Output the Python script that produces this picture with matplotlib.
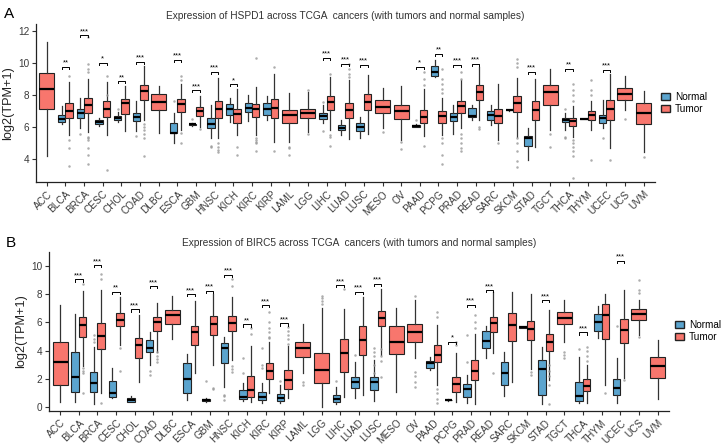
import matplotlib
matplotlib.use('Agg')
import matplotlib.pyplot as plt
from matplotlib.patches import Patch

plt.rcParams['font.family'] = ['Liberation Sans', 'DejaVu Sans']

cancers = ['ACC', 'BLCA', 'BRCA', 'CESC', 'CHOL', 'COAD', 'DLBC', 'ESCA', 'GBM', 'HNSC', 'KICH',
           'KIRC', 'KIRP', 'LAML', 'LGG', 'LIHC', 'LUAD', 'LUSC', 'MESO', 'OV', 'PAAD', 'PCPG',
           'PRAD', 'READ', 'SARC', 'SKCM', 'STAD', 'TGCT', 'THCA', 'THYM', 'UCEC', 'UCS', 'UVM']

# ---- panel A : HSPD1  (lo, q1, med, q3, hi) ----
a_normal = {
    'BLCA': (6.2, 6.31, 6.51, 6.74, 7.3), 'BRCA': (5.92, 6.58, 6.87, 7.15, 7.83),
    'CESC': (6.06, 6.22, 6.33, 6.47, 6.6), 'CHOL': (6.35, 6.42, 6.54, 6.68, 6.95),
    'COAD': (5.77, 6.37, 6.64, 6.89, 7.6), 'ESCA': (4.99, 5.61, 5.67, 6.23, 6.85),
    'GBM': (6.1, 6.14, 6.18, 6.22, 6.26), 'HNSC': (5.36, 5.92, 6.2, 6.54, 7.36),
    'KICH': (6.33, 6.78, 7.13, 7.46, 7.83), 'KIRC': (6.37, 6.93, 7.22, 7.5, 7.98),
    'KIRP': (6.43, 6.78, 7.11, 7.53, 7.92), 'LIHC': (6.27, 6.51, 6.72, 6.91, 7.36),
    'LUAD': (5.5, 5.81, 5.98, 6.12, 6.43), 'LUSC': (5.36, 5.77, 6.02, 6.23, 6.64),
    'PAAD': (6.0, 6.02, 6.08, 6.14, 6.18), 'PCPG': (9.11, 9.15, 9.42, 9.82, 10.19),
    'PRAD': (5.6, 6.39, 6.64, 6.89, 7.36), 'READ': (6.47, 6.64, 6.7, 7.22, 7.36),
    'SARC': (6.12, 6.43, 6.74, 7.0, 7.36), 'SKCM': (7.03, 7.04, 7.05, 7.06, 7.07),
    'STAD': (3.96, 4.82, 5.36, 5.44, 5.98), 'THCA': (5.8, 6.31, 6.47, 6.6, 6.89),
    'THYM': (6.49, 6.5, 6.51, 6.52, 6.53), 'UCEC': (5.92, 6.29, 6.6, 6.78, 7.67),
}
a_tumor = [
    (4.2, 7.11, 8.35, 9.38, 11.26), (5.5, 6.56, 6.99, 7.48, 8.8), (5.7, 6.89, 7.38, 7.83, 9.0),
    (5.5, 6.62, 7.13, 7.6, 8.8), (5.75, 6.82, 7.5, 7.73, 8.56), (6.43, 7.71, 8.23, 8.64, 9.77),
    (5.65, 7.07, 7.57, 8.04, 8.56), (5.8, 6.97, 7.42, 7.75, 8.7), (6.0, 6.7, 7.0, 7.26, 7.94),
    (5.3, 6.6, 7.13, 7.63, 9.07), (5.5, 6.27, 6.84, 7.15, 8.39), (5.5, 6.64, 7.11, 7.46, 8.5),
    (5.1, 6.58, 7.22, 7.73, 9.32), (5.09, 6.23, 6.74, 7.05, 8.14), (5.71, 6.6, 6.87, 7.11, 8.2),
    (5.8, 7.05, 7.57, 7.92, 9.11), (5.24, 6.54, 7.09, 7.53, 8.9), (5.6, 7.05, 7.57, 8.08, 9.22),
    (5.92, 6.89, 7.26, 7.67, 8.43), (5.2, 6.5, 7.0, 7.36, 8.54), (5.44, 6.27, 6.64, 7.05, 8.4),
    (5.5, 6.29, 6.68, 7.0, 7.8), (5.92, 6.89, 7.3, 7.63, 8.9), (6.43, 7.67, 8.19, 8.64, 9.73),
    (5.2, 6.29, 6.7, 7.15, 8.7), (5.4, 6.95, 7.5, 7.92, 9.07), (4.78, 6.43, 7.05, 7.61, 9.0),
    (5.8, 7.4, 8.19, 8.64, 9.63), (5.4, 6.06, 6.37, 6.58, 7.3), (5.8, 6.43, 6.74, 7.0, 7.61),
    (4.68, 6.47, 7.15, 7.71, 9.32), (7.09, 7.67, 8.04, 8.43, 9.15), (4.47, 6.18, 6.89, 7.5, 8.25),
]
a_normal_out = {'BRCA': [5.6], 'CHOL': [7.1], 'COAD': [5.44], 'ESCA': [7.6], 'GBM': [6.5],
                'HNSC': [4.84, 4.78], 'LIHC': [7.55, 5.75], 'PAAD': [6.43],
                'THCA': [7.1, 5.4, 5.3], 'UCEC': [5.3]}
a_tumor_out = {
    'BLCA': [9.2, 5.2, 4.7, 3.6], 'BRCA': [11.6, 9.9, 9.6, 9.4, 5.4, 5.3, 5.2, 4.7, 4.3, 3.7],
    'CESC': [9.2, 8.0, 3.36], 'COAD': [6.2, 6.0, 5.8, 5.6, 5.3, 4.2], 'ESCA': [9.2, 8.9, 5.65, 5.0],
    'GBM': [5.9], 'HNSC': [5.0, 4.8, 4.6, 4.47], 'KICH': [4.78, 4.27],
    'KIRC': [10.29, 5.3, 5.2, 5.1, 5.0, 4.5], 'KIRP': [9.73, 4.5], 'LAML': [4.78, 4.7, 4.3],
    'LGG': [8.3, 5.6], 'LIHC': [9.3, 5.5, 5.4, 4.84], 'LUAD': [9.9, 9.6, 9.3, 9.1],
    'MESO': [5.69], 'OV': [5.09, 4.62], 'PAAD': [9.4, 9.0, 8.6, 4.82],
    'PCPG': [9.6, 9.0, 8.7, 8.4, 8.1, 5.3, 5.0, 4.27, 3.7],
    'PRAD': [9.4, 9.0, 5.6, 5.3, 5.0, 4.7, 4.5], 'READ': [6.02, 5.9], 'SARC': [5.0],
    'SKCM': [10.25, 10.0, 9.73, 5.3, 5.0, 4.5, 3.9, 3.54], 'TGCT': [5.55, 4.74],
    'THCA': [8.7, 8.3, 8.0, 7.6, 5.2, 5.0, 4.8, 4.5, 4.2, 2.82], 'THYM': [8.95, 8.29, 8.0, 3.96],
    'UCEC': [3.96], 'UCS': [6.5], 'UVM': [4.16]}
a_sig = {'BLCA': ('**', 9.73), 'BRCA': ('***', 11.7), 'CESC': ('*', 9.98), 'CHOL': ('**', 8.85),
         'COAD': ('***', 10.06), 'ESCA': ('***', 10.18), 'GBM': ('***', 8.29), 'HNSC': ('***', 9.42),
         'KICH': ('*', 8.66), 'LIHC': ('***', 10.29), 'LUAD': ('***', 9.94), 'LUSC': ('***', 9.88),
         'PAAD': ('*', 9.73), 'PCPG': ('**', 10.56), 'PRAD': ('***', 9.88), 'READ': ('***', 9.94),
         'STAD': ('***', 9.42), 'THCA': ('**', 9.63), 'UCEC': ('***', 9.57)}

# ---- panel B : BIRC5 ----
b_normal = {
    'BLCA': (0.4, 1.11, 2.17, 3.93, 6.59), 'BRCA': (0.21, 1.11, 1.74, 2.47, 4.28),
    'CESC': (0.64, 0.75, 0.99, 1.86, 2.75), 'CHOL': (0.38, 0.4, 0.52, 0.68, 0.82),
    'COAD': (2.99, 3.88, 4.21, 4.75, 5.3), 'ESCA': (0.52, 0.99, 2.0, 3.11, 3.74),
    'GBM': (0.38, 0.42, 0.52, 0.61, 0.65), 'HNSC': (1.46, 3.11, 4.17, 4.52, 4.99),
    'KICH': (0.45, 0.59, 0.75, 1.23, 1.7), 'KIRC': (0.28, 0.52, 0.75, 1.06, 1.7),
    'KIRP': (0.28, 0.45, 0.68, 0.92, 1.58), 'LIHC': (0.24, 0.4, 0.59, 0.87, 1.46),
    'LUAD': (0.64, 1.34, 1.81, 2.17, 3.22), 'LUSC': (0.45, 1.23, 1.77, 2.12, 3.34),
    'PAAD': (2.64, 2.8, 3.11, 3.27, 3.58), 'PCPG': (0.48, 0.5, 0.52, 0.54, 0.56),
    'PRAD': (0.28, 0.75, 1.27, 1.62, 2.28), 'READ': (3.46, 4.17, 4.68, 5.39, 5.77),
    'SARC': (0.82, 1.58, 2.4, 3.18, 3.93), 'SKCM': (5.63, 5.64, 5.65, 5.66, 5.67),
    'STAD': (0.21, 0.87, 2.71, 3.34, 4.28), 'THCA': (0.28, 0.47, 0.82, 1.81, 3.58),
    'THYM': (4.87, 5.39, 6.0, 6.57, 7.15), 'UCEC': (0.28, 0.87, 1.34, 1.98, 3.46),
}
b_tumor = [
    (0.35, 1.58, 3.18, 4.59, 7.27), (2.9, 4.99, 5.81, 6.4, 8.24), (1.0, 4.1, 5.06, 5.93, 8.3),
    (4.4, 5.74, 6.17, 6.64, 7.77), (1.81, 3.46, 4.4, 4.87, 6.52), (3.93, 5.41, 6.0, 6.4, 7.41),
    (4.8, 5.86, 6.52, 6.87, 7.88), (2.45, 4.4, 5.3, 5.74, 7.5), (3.0, 5.11, 5.88, 6.45, 7.98),
    (3.34, 5.41, 5.98, 6.45, 7.77), (0.4, 0.75, 1.23, 2.24, 4.33), (0.99, 2.0, 2.57, 3.11, 4.64),
    (0.64, 1.3, 1.91, 2.64, 4.33), (2.4, 3.53, 4.17, 4.64, 5.88), (0.05, 1.7, 2.66, 3.81, 7.0),
    (0.75, 2.47, 3.81, 4.82, 6.92), (0.87, 3.69, 4.75, 5.74, 7.81), (3.69, 5.74, 6.35, 6.82, 8.4),
    (1.11, 3.77, 4.64, 5.77, 6.99), (3.46, 4.64, 5.34, 5.88, 7.6), (1.58, 3.18, 3.69, 4.4, 5.81),
    (0.4, 1.11, 1.62, 2.17, 3.81), (0.21, 1.93, 2.57, 3.34, 5.22), (3.81, 5.34, 5.93, 6.4, 8.17),
    (1.81, 4.71, 5.81, 6.64, 8.17), (2.71, 4.75, 5.51, 6.1, 7.98), (1.9, 4.0, 4.64, 5.22, 6.87),
    (4.64, 5.86, 6.33, 6.75, 7.62), (0.28, 1.18, 1.53, 1.98, 3.0), (1.58, 4.82, 6.52, 7.34, 8.0),
    (2.05, 4.57, 5.46, 6.24, 8.28), (5.11, 6.17, 6.57, 6.92, 7.58), (0.59, 2.09, 2.94, 3.58, 4.75),
]
b_normal_out = {'BRCA': [5.1, 4.8, 4.6], 'COAD': [2.59, 2.28], 'GBM': [1.86],
                'HNSC': [0.9, 0.8, 0.52], 'KICH': [3.51, 2.4], 'KIRC': [4.17, 3.0, 2.75],
                'KIRP': [1.86], 'LIHC': [1.86], 'LUAD': [3.7],
                'LUSC': [4.17, 3.9, 3.6, 3.0, 2.4], 'PRAD': [5.11, 3.22], 'THCA': [4.12],
                'UCEC': [5.77]}
b_tumor_out = {
    'BLCA': [8.75, 2.75, 2.6, 2.4, 1.04], 'BRCA': [9.4, 9.04, 0.33], 'CESC': [4.17, 2.59],
    'COAD': [3.88, 3.6, 3.4, 3.22], 'GBM': [1.4, 1.3], 'HNSC': [9.11, 8.6, 2.92, 2.7, 2.52],
    'KICH': [5.6, 5.22], 'KIRC': [6.75, 6.0, 5.6, 5.3, 5.0, 4.9], 'KIRP': [5.7, 5.4, 5.1, 4.8, 4.5],
    'LAML': [1.81, 1.6], 'LGG': [7.9, 7.7, 7.5, 7.3], 'LIHC': [8.4],
    'LUSC': [4.1, 3.6, 3.3, 2.17], 'OV': [7.86, 2.52, 2.2, 1.8, 1.46],
    'PAAD': [6.75, 6.4, 1.3, 1.0, 0.6, 0.3], 'PCPG': [4.64, 4.4], 'PRAD': [6.5, 6.0, 5.6],
    'READ': [2.45], 'SKCM': [2.5, 2.3], 'STAD': [2.99, 2.6, 2.2, 1.6, 0.21],
    'TGCT': [3.93, 3.7, 3.46], 'THCA': [3.3, 3.6, 4.0, 4.28], 'THYM': [0.99], 'UCEC': [1.9],
    'UCS': [8.99, 8.3, 8.1, 5.0]}
b_sig = {'BLCA': ('***', 9.04), 'BRCA': ('***', 10.05), 'CESC': ('**', 8.17), 'CHOL': ('***', 6.92),
         'COAD': ('***', 8.57), 'ESCA': ('***', 8.0), 'GBM': ('***', 8.24), 'HNSC': ('***', 9.39),
         'KICH': ('**', 5.86), 'KIRC': ('***', 7.22), 'KIRP': ('***', 5.93), 'LIHC': ('***', 8.64),
         'LUAD': ('***', 8.17), 'LUSC': ('***', 8.75), 'PCPG': ('*', 4.64), 'PRAD': ('***', 7.27),
         'READ': ('***', 8.28), 'STAD': ('***', 7.58), 'THCA': ('***', 5.3), 'UCEC': ('***', 10.35)}

col_normal = '#5BA4CE'
col_tumor = '#F8766D'
txt_col = '#3A3A3A'


def stat(v, out):
    return dict(whislo=v[0], q1=v[1], med=v[2], q3=v[3], whishi=v[4], fliers=out)


def panel(ax, normal, tumor, n_out, t_out, sig, gene, ylim, yticks, tick_len):
    for i, c in enumerate(cancers):
        if c in normal:
            w = 0.4
            grp = [(normal[c], n_out.get(c, []), i - 0.2, col_normal),
                   (tumor[i], t_out.get(c, []), i + 0.2, col_tumor)]
        else:
            grp = [(tumor[i], t_out.get(c, []), i, col_tumor)]
            w = 0.8
        for v, out, p, col in grp:
            ax.bxp([stat(v, out)], positions=[p], widths=w, patch_artist=True, showcaps=False,
                   boxprops=dict(facecolor=col, edgecolor='#222222', linewidth=0.8),
                   medianprops=dict(color='black', linewidth=1.6),
                   whiskerprops=dict(color='#333333', linewidth=0.9),
                   flierprops=dict(marker='o', markersize=1.8, markerfacecolor='#999999',
                                   markeredgecolor='none', alpha=0.8))
        if c in sig:
            lab, y = sig[c]
            ax.plot([i - 0.2, i - 0.2, i + 0.2, i + 0.2], [y - tick_len, y, y, y - tick_len],
                    color='black', lw=0.7)
            ax.text(i, y + tick_len * 0.1, lab, ha='center', va='bottom', fontsize=5.5,
                    color='black')
    ax.set_xlim(-0.58, 32.6)
    ax.set_ylim(*ylim)
    ax.set_yticks(yticks)
    ax.set_xticks(range(len(cancers)))
    ax.set_xticklabels(cancers, rotation=45, ha='right', rotation_mode='anchor', fontsize=7.2,
                       color=txt_col)
    ax.tick_params(axis='y', labelsize=7.2, labelcolor=txt_col, length=3, color='#333333', pad=2)
    ax.tick_params(axis='x', length=3, color='#333333', pad=2)
    for s in ['top', 'right']:
        ax.spines[s].set_visible(False)
    for s in ['left', 'bottom']:
        ax.spines[s].set_color('#222222')
        ax.spines[s].set_linewidth(0.9)
    ax.set_ylabel('log2(TPM+1)', fontsize=9.2, color='#222222', labelpad=3)
    ax.set_title('Expression of ' + gene + ' across TCGA  cancers (with tumors and normal samples)',
                 fontsize=7.3, color='#333333', pad=4)
    handles = [Patch(facecolor=col_normal, edgecolor='#222222', label='Normal'),
               Patch(facecolor=col_tumor, edgecolor='#222222', label='Tumor')]
    ax.legend(handles=handles, loc='center left', bbox_to_anchor=(1.0, 0.5), frameon=False,
              fontsize=7.2, handlelength=0.9, handleheight=0.7, handletextpad=0.5,
              labelspacing=0.2, borderaxespad=0.2)


fig = plt.figure(figsize=(7.22, 4.46), dpi=100)
ax1 = fig.add_axes([0.0499, 0.592, 0.857, 0.354])
ax2 = fig.add_axes([0.0683, 0.079, 0.858, 0.3565])

panel(ax1, a_normal, a_tumor, a_normal_out, a_tumor_out, a_sig, 'HSPD1', (2.6, 12.4),
      [4, 6, 8, 10, 12], 0.13)
panel(ax2, b_normal, b_tumor, b_normal_out, b_tumor_out, b_sig, 'BIRC5', (-0.24, 11.0),
      [0, 2, 4, 6, 8, 10], 0.15)

fig.text(0.005, 0.985, 'A', fontsize=11, va='top', ha='left')
fig.text(0.008, 0.47, 'B', fontsize=11, va='top', ha='left')

fig.savefig('out.png', dpi=100)
